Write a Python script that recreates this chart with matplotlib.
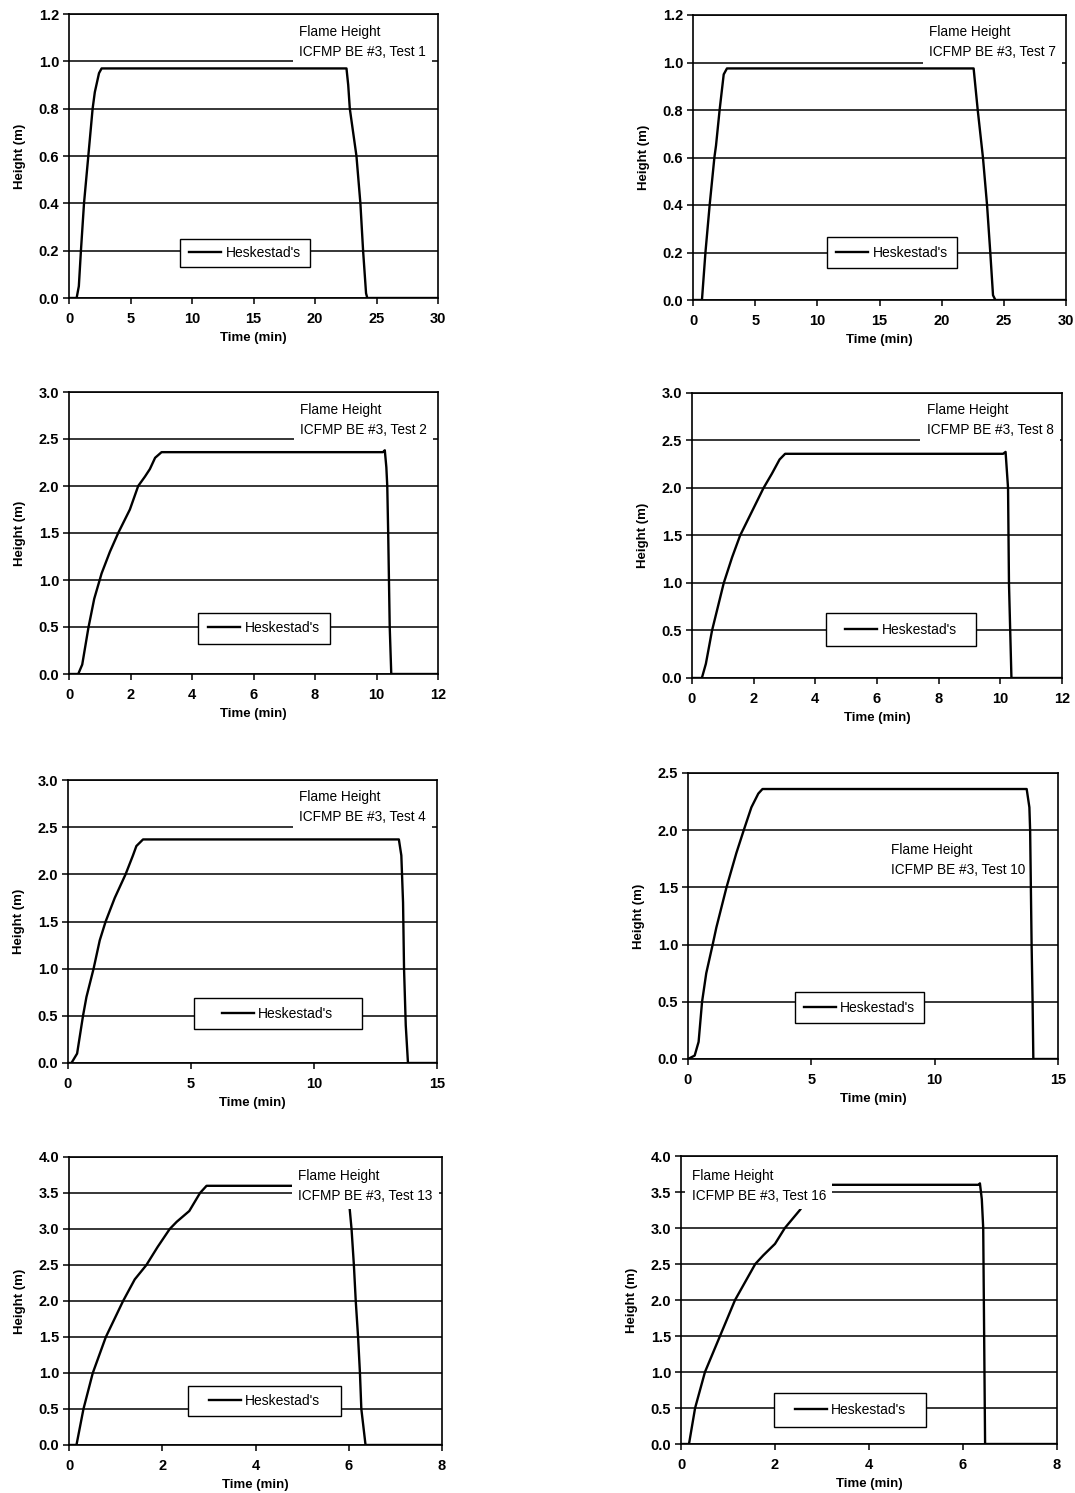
import matplotlib
matplotlib.use("Agg")
import matplotlib.pyplot as plt
from matplotlib.patches import Rectangle
import numpy as np

plt.rcParams["font.family"] = ["Liberation Sans", "DejaVu Sans"]

# ---- data (time in min, flame height in m) ----
test1_t = [0, 0.62, 0.8, 0.97, 1.22, 1.57, 1.92, 2.1, 2.44, 2.65, 22.56, 22.7, 22.83, 23.37, 23.69, 23.91, 24.15, 24.25, 30]
test1_h = [0, 0, 0.05, 0.2, 0.4, 0.6, 0.8, 0.87, 0.95, 0.97, 0.97, 0.9, 0.8, 0.6, 0.4, 0.2, 0.02, 0, 0]

test7_t = [0, 0.72, 1.0, 1.34, 1.72, 1.85, 2.14, 2.47, 2.73, 22.57, 22.9, 23.32, 23.65, 23.91, 24.13, 24.32, 30]
test7_h = [0, 0, 0.2, 0.4, 0.6, 0.65, 0.8, 0.95, 0.975, 0.975, 0.8, 0.6, 0.4, 0.2, 0.02, 0, 0]

test2_t = [0, 0.30, 0.43, 0.63, 0.82, 1.06, 1.33, 1.6, 1.98, 2.25, 2.47, 2.63, 2.8, 3.01, 10.21, 10.27, 10.32, 10.35, 10.38, 10.43, 10.48, 12]
test2_h = [0, 0, 0.1, 0.49, 0.8, 1.07, 1.3, 1.5, 1.75, 2.0, 2.1, 2.18, 2.3, 2.36, 2.36, 2.38, 2.2, 2.0, 1.5, 0.5, 0, 0]

test8_t = [0, 0.32, 0.45, 0.65, 1.03, 1.3, 1.56, 1.94, 2.32, 2.59, 2.84, 3.02, 10.09, 10.17, 10.25, 10.28, 10.36, 12]
test8_h = [0, 0, 0.15, 0.5, 1.0, 1.27, 1.5, 1.75, 2.0, 2.15, 2.3, 2.36, 2.36, 2.38, 2.0, 1.0, 0, 0]

test4_t = [0, 0.14, 0.37, 0.61, 0.75, 1.04, 1.29, 1.53, 1.9, 2.34, 2.64, 2.78, 3.05, 13.45, 13.55, 13.62, 13.66, 13.73, 13.82, 15]
test4_h = [0, 0, 0.1, 0.5, 0.7, 1.0, 1.3, 1.5, 1.75, 2.0, 2.2, 2.3, 2.37, 2.37, 2.2, 1.7, 1.0, 0.4, 0, 0]

test10_t = [0, 0.27, 0.43, 0.57, 0.74, 1.0, 1.15, 1.56, 1.96, 2.26, 2.57, 2.85, 3.02, 13.73, 13.84, 13.87, 13.93, 13.97, 14.0, 15]
test10_h = [0, 0.03, 0.15, 0.5, 0.75, 1.0, 1.15, 1.5, 1.8, 2.0, 2.2, 2.32, 2.36, 2.36, 2.2, 2.0, 1.0, 0.5, 0, 0]

test13_t = [0, 0.16, 0.31, 0.51, 0.79, 1.16, 1.41, 1.66, 1.9, 2.16, 2.31, 2.58, 2.81, 2.95, 5.97, 6.02, 6.06, 6.11, 6.15, 6.2, 6.24, 6.27, 6.36, 8]
test13_h = [0, 0, 0.5, 1.0, 1.5, 2.0, 2.3, 2.5, 2.75, 3.0, 3.1, 3.25, 3.5, 3.6, 3.6, 3.28, 3.0, 2.5, 2.0, 1.5, 1.0, 0.5, 0, 0]

test16_t = [0, 0.17, 0.3, 0.51, 0.83, 1.15, 1.58, 1.75, 2.0, 2.21, 2.53, 2.8, 2.97, 6.33, 6.36, 6.4, 6.43, 6.47, 8]
test16_h = [0, 0, 0.5, 1.0, 1.5, 2.0, 2.5, 2.62, 2.78, 3.0, 3.25, 3.5, 3.6, 3.6, 3.62, 3.4, 3.0, 0, 0]

test_names = ["Test 1", "Test 7", "Test 2", "Test 8", "Test 4", "Test 10", "Test 13", "Test 16"]
series = [(test1_t, test1_h), (test7_t, test7_h), (test2_t, test2_h), (test8_t, test8_h),
          (test4_t, test4_h), (test10_t, test10_h), (test13_t, test13_h), (test16_t, test16_h)]
x_max = [30, 30, 12, 12, 15, 15, 8, 8]
x_step = [5, 5, 2, 2, 5, 5, 2, 2]
y_max = [1.2, 1.2, 3.0, 3.0, 3.0, 2.5, 4.0, 4.0]
y_step = [0.2, 0.2, 0.5, 0.5, 0.5, 0.5, 0.5, 0.5]

# ---- layout (pixels: left, right, top, bottom) ----
W, H = 1075, 1493
axes_px = [(69, 438, 14, 298), (693, 1066, 15, 300),
           (69, 438, 392, 674), (692, 1062, 393, 678),
           (68, 437, 780, 1063), (688, 1058, 773, 1059),
           (69, 442, 1157, 1445), (681, 1057, 1156, 1444)]
# annotation text anchor (axes fraction, left / top of first line) and box padding
note_xy = [(0.624, 0.962), (0.632, 0.965), (0.625, 0.962), (0.634, 0.964),
           (0.625, 0.966), (0.548, 0.755), (0.614, 0.960), (0.028, 0.956)]
note_pad = [0.45, 0.45, 0.45, 0.45, 0.45, 0.1, 0.45, 0.45]
# legend frame (axes fraction x0, y0, x1, y1)
legend_box = [(0.300, 0.109, 0.654, 0.206), (0.359, 0.113, 0.708, 0.220),
              (0.350, 0.107, 0.707, 0.218), (0.362, 0.112, 0.768, 0.228),
              (0.341, 0.119, 0.796, 0.230), (0.289, 0.125, 0.638, 0.235),
              (0.318, 0.102, 0.729, 0.206), (0.248, 0.058, 0.652, 0.178)]

fig = plt.figure(figsize=(W / 100, H / 100), dpi=100)

for i, (t, h) in enumerate(series):
    l, r, tp, b = axes_px[i]
    ax = fig.add_axes([l / W, 1 - b / H, (r - l) / W, (b - tp) / H])
    ax.plot(t, h, color="black", lw=1.7, zorder=2, label="Heskestad's",
            solid_joinstyle="round")
    ax.set_xlim(0, x_max[i])
    ax.set_ylim(0, y_max[i])
    ax.set_xticks(np.arange(0, x_max[i] + 0.001, x_step[i]))
    ax.set_yticks(np.arange(0, y_max[i] + 0.001, y_step[i]))
    ax.yaxis.set_major_formatter(matplotlib.ticker.FormatStrFormatter("%.1f"))
    ax.set_axisbelow(True)
    ax.grid(axis="y", color="black", lw=1.1)
    for sp in ax.spines.values():
        sp.set_linewidth(1.2)
        sp.set_color("black")
    ax.tick_params(direction="out", length=4, width=1.1, labelsize=10.5)
    ax.tick_params(axis="x", pad=6)
    ax.tick_params(axis="y", pad=3)
    for lab in ax.get_xticklabels() + ax.get_yticklabels():
        lab.set_fontweight("bold")
    ax.set_xlabel("Time (min)", fontsize=9.5, fontweight="bold", labelpad=4.5)
    ax.set_ylabel("Height (m)", fontsize=9.5, fontweight="bold", labelpad=9)

    nx, ny = note_xy[i]
    ax.text(nx, ny, "Flame Height\nICFMP BE #3, " + test_names[i],
            transform=ax.transAxes, ha="left", va="top", fontsize=9.8,
            linespacing=1.55, zorder=2.4,
            bbox=dict(boxstyle=f"square,pad={note_pad[i]}", facecolor="white",
                      edgecolor="none"))

    x0, y0, x1, y1 = legend_box[i]
    ax.add_patch(Rectangle((x0, y0), x1 - x0, y1 - y0, transform=ax.transAxes,
                           facecolor="white", edgecolor="black", lw=1.0, zorder=4))
    ax.legend(loc="center", bbox_to_anchor=((x0 + x1) / 2, (y0 + y1) / 2),
              frameon=False, fontsize=10, handlelength=2.3, handletextpad=0.3,
              borderpad=0.2)

fig.savefig("out.png", dpi=100, facecolor="white")
